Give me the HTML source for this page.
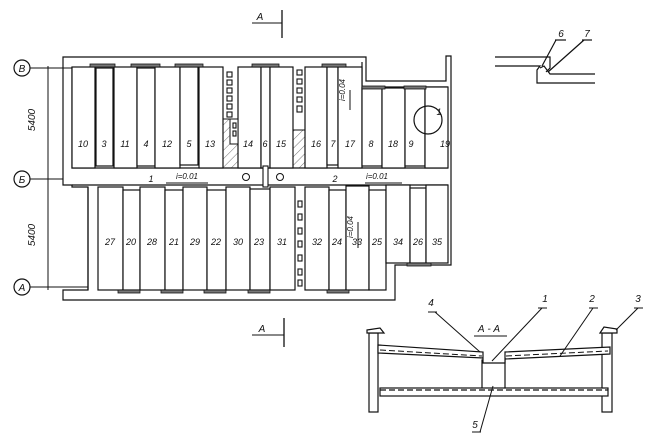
<!DOCTYPE html>
<html><head><meta charset="utf-8"><style>
html,body{margin:0;padding:0;background:#fff;}
svg{display:block;}
text{font-family:"Liberation Sans","DejaVu Sans",sans-serif;font-style:italic;fill:#111;}
</style></head><body>
<svg width="670" height="442" viewBox="0 0 670 442" xmlns="http://www.w3.org/2000/svg">
<defs>
<pattern id="h" width="6" height="6" patternUnits="userSpaceOnUse" patternTransform="rotate(45)"><line x1="0" y1="0" x2="0" y2="6" stroke="#333" stroke-width="0.7"/></pattern>
</defs>
<g fill="none" stroke="#111" stroke-width="1.2">
<path d="M63 57 H366 V81 H446 V56 H451 V265 H395 V300 H63 V290 H88 V187 H72 V185 H63 Z"/>
<path d="M72 67 V168 H448"/>
<path d="M72 185 H448"/>
<path d="M88 187 V290"/>
<path d="M362 62 V87 H448"/>
</g>
<g fill="#fff" stroke="#111" stroke-width="1.2">
<rect x="72" y="67" width="23" height="101"/>
<rect x="96" y="68" width="17" height="98"/>
<rect x="114" y="67" width="23" height="101"/>
<rect x="137" y="68" width="18" height="98"/>
<rect x="155" y="67" width="25" height="101"/>
<rect x="180" y="67" width="18" height="98"/>
<rect x="199" y="67" width="24" height="101"/>
<rect x="238" y="67" width="23" height="101"/>
<rect x="261" y="67" width="9" height="101"/>
<rect x="270" y="67" width="23" height="101"/>
<rect x="305" y="67" width="22" height="101"/>
<rect x="327" y="67" width="11" height="98"/>
<rect x="338" y="67" width="24" height="101"/>
<rect x="362" y="88" width="20" height="78"/>
<rect x="382" y="88" width="23" height="80"/>
<rect x="405" y="88" width="20" height="78"/>
<rect x="425" y="87" width="23" height="81"/>
<rect x="98" y="187" width="25" height="103"/>
<rect x="123" y="190" width="17" height="100"/>
<rect x="140" y="187" width="25" height="103"/>
<rect x="165" y="190" width="18" height="100"/>
<rect x="183" y="187" width="24" height="103"/>
<rect x="207" y="190" width="19" height="100"/>
<rect x="226" y="187" width="24" height="103"/>
<rect x="250" y="189" width="20" height="101"/>
<rect x="270" y="187" width="25" height="103"/>
<rect x="305" y="187" width="24" height="103"/>
<rect x="329" y="190" width="17" height="100"/>
<rect x="346" y="186" width="23" height="104"/>
<rect x="369" y="190" width="17" height="100"/>
<rect x="386" y="185" width="24" height="78"/>
<rect x="410" y="188" width="16" height="75"/>
<rect x="426" y="185" width="22" height="78"/>
</g>
<rect x="223" y="119" width="15" height="49" fill="url(#h)" stroke="#111"/>
<rect x="230" y="119" width="8" height="25" fill="#fff" stroke="#111"/>
<rect x="293" y="130" width="12" height="38" fill="url(#h)" stroke="#111"/>
<g fill="#fff" stroke="#111" stroke-width="1.1">
<rect x="227" y="72" width="5" height="5"/><rect x="227" y="80" width="5" height="5"/><rect x="227" y="88" width="5" height="5"/><rect x="227" y="96" width="5" height="5"/><rect x="227" y="104" width="5" height="5"/><rect x="227" y="112" width="5" height="5"/>
<rect x="233" y="123" width="3" height="5"/><rect x="233" y="131" width="3" height="5"/>
<rect x="297" y="70" width="5" height="5"/><rect x="297" y="79" width="5" height="5"/><rect x="297" y="88" width="5" height="5"/><rect x="297" y="97" width="5" height="5"/><rect x="297" y="106" width="5" height="6"/>
<rect x="298" y="201" width="4" height="6"/><rect x="298" y="214" width="4" height="6"/><rect x="298" y="228" width="4" height="6"/><rect x="298" y="241" width="4" height="6"/><rect x="298" y="255" width="4" height="6"/><rect x="298" y="269" width="4" height="6"/><rect x="298" y="280" width="4" height="6"/>
<rect x="263" y="166" width="5" height="21"/>
</g>
<g fill="#777" stroke="#111" stroke-width="0.8">
<rect x="90" y="64" width="25" height="3"/><rect x="131" y="64" width="29" height="3"/><rect x="175" y="64" width="28" height="3"/><rect x="252" y="64" width="27" height="3"/><rect x="322" y="64" width="24" height="3"/>
<rect x="362" y="86" width="23" height="3"/><rect x="404" y="86" width="22" height="3"/>
<rect x="118" y="290" width="22" height="3"/><rect x="161" y="290" width="22" height="3"/><rect x="204" y="290" width="22" height="3"/><rect x="248" y="290" width="22" height="3"/><rect x="327" y="290" width="22" height="3"/><rect x="407" y="263" width="24" height="3"/>
</g>
<circle cx="246" cy="177" r="3.5" fill="#fff" stroke="#111"/>
<circle cx="280" cy="177" r="3.5" fill="#fff" stroke="#111"/>
<circle cx="428" cy="120" r="14" fill="none" stroke="#111" stroke-width="1.2"/>
<g fill="#fff" stroke="#111" stroke-width="1.2">
<circle cx="22" cy="68" r="8"/><circle cx="22" cy="179" r="8"/><circle cx="22" cy="287" r="8"/>
</g>
<g stroke="#111" stroke-width="1">
<line x1="30" y1="68" x2="72" y2="68"/><line x1="30" y1="179" x2="63" y2="179"/><line x1="30" y1="287" x2="88" y2="287"/>
<line x1="48" y1="66" x2="48" y2="290"/>
<line x1="45" y1="68" x2="51" y2="68"/><line x1="45" y1="179" x2="51" y2="179"/><line x1="45" y1="287" x2="51" y2="287"/>
<line x1="282" y1="10" x2="282" y2="38" stroke-width="1.3"/><line x1="252" y1="23" x2="282" y2="23"/>
<line x1="284" y1="318" x2="284" y2="347" stroke-width="1.3"/><line x1="252" y1="335" x2="284" y2="335"/>
<line x1="166" y1="183" x2="208" y2="183"/><line x1="365" y1="183" x2="402" y2="183"/>
<line x1="350" y1="90" x2="350" y2="110"/><line x1="358" y1="222" x2="358" y2="248"/>
</g>
<g font-size="10" text-anchor="middle">
<text x="22" y="72">В</text><text x="22" y="183">Б</text><text x="22" y="291">А</text>
<text x="260" y="20">А</text><text x="262" y="332">А</text>
<text x="35" y="120" transform="rotate(-90 35 120)">5400</text>
<text x="35" y="235" transform="rotate(-90 35 235)">5400</text>
</g>
<g font-size="9" text-anchor="middle">
<text x="83" y="147">10</text><text x="104" y="147">3</text><text x="125" y="147">11</text><text x="146" y="147">4</text><text x="167" y="147">12</text><text x="189" y="147">5</text><text x="210" y="147">13</text><text x="248" y="147">14</text><text x="265" y="147">6</text><text x="281" y="147">15</text><text x="316" y="147">16</text><text x="333" y="147">7</text><text x="350" y="147">17</text><text x="371" y="147">8</text><text x="393" y="147">18</text><text x="411" y="147">9</text><text x="445" y="147">19</text><text x="439" y="115">1</text>
<text x="151" y="182">1</text><text x="335" y="182">2</text>
<text x="187" y="179" font-size="8">i=0.01</text><text x="377" y="179" font-size="8">i=0.01</text>
<text x="345" y="90" font-size="8" transform="rotate(-90 345 90)">i=0.04</text>
<text x="353" y="227" font-size="8" transform="rotate(-90 353 227)">i=0.04</text>
<text x="110" y="245">27</text><text x="131" y="245">20</text><text x="152" y="245">28</text><text x="174" y="245">21</text><text x="195" y="245">29</text><text x="216" y="245">22</text><text x="238" y="245">30</text><text x="259" y="245">23</text><text x="282" y="245">31</text><text x="317" y="245">32</text><text x="337" y="245">24</text><text x="357" y="245">33</text><text x="377" y="245">25</text><text x="398" y="245">34</text><text x="418" y="245">26</text><text x="437" y="245">35</text>
</g>
<!-- detail 6-7 -->
<g stroke="#111" stroke-width="1.2" fill="none">
<path d="M495 57 H550 V68 L546 72"/>
<path d="M495 66 H540 L537 70 V83 H595"/>
<path d="M540 68 L544 66 L550 74 H595"/>
<line x1="542" y1="66" x2="556" y2="40"/><line x1="555" y1="40" x2="566" y2="40"/>
<line x1="548" y1="72" x2="584" y2="40"/><line x1="582" y1="40" x2="592" y2="40"/>
</g>
<g font-size="10" text-anchor="middle"><text x="561" y="37">6</text><text x="587" y="37">7</text></g>
<!-- section A-A -->
<g stroke="#111" stroke-width="1.2" fill="#fff">
<rect x="369" y="333" width="9" height="79"/>
<rect x="602" y="333" width="10" height="79"/>
<path d="M367 330 L380 328 L384 333 H367 Z"/>
<path d="M600 333 L604 327 L617 329 V333 Z"/>
<path d="M378 345 L483 352 V358 L378 353 Z"/>
<path d="M505 352 L610 347 V354 L505 359 Z"/>
<rect x="482" y="360" width="23" height="30"/>
<path d="M483 358 V363 H505 V358"/>
<rect x="380" y="388" width="228" height="8"/>
<line x1="380" y1="390" x2="608" y2="390" stroke-dasharray="6 3"/>
</g>
<g stroke="#111" stroke-width="1">
<line x1="380" y1="350" x2="482" y2="356" stroke-dasharray="6 3"/>
<line x1="506" y1="356" x2="608" y2="351" stroke-dasharray="6 3"/>
<line x1="480" y1="352" x2="435" y2="312"/><line x1="428" y1="312" x2="437" y2="312"/>
<line x1="492" y1="361" x2="542" y2="308"/><line x1="538" y1="308" x2="547" y2="308"/>
<line x1="560" y1="356" x2="593" y2="308"/><line x1="589" y1="308" x2="598" y2="308"/>
<line x1="616" y1="330" x2="638" y2="308"/><line x1="634" y1="308" x2="643" y2="308"/>
<line x1="493" y1="386" x2="480" y2="432"/><line x1="472" y1="432" x2="481" y2="432"/>
<line x1="474" y1="336" x2="507" y2="336"/>
</g>
<g font-size="10" text-anchor="middle">
<text x="431" y="306">4</text><text x="545" y="302">1</text><text x="592" y="302">2</text><text x="638" y="302">3</text><text x="475" y="428">5</text><text x="489" y="332">А - А</text>
</g>
</svg>
</body></html>
